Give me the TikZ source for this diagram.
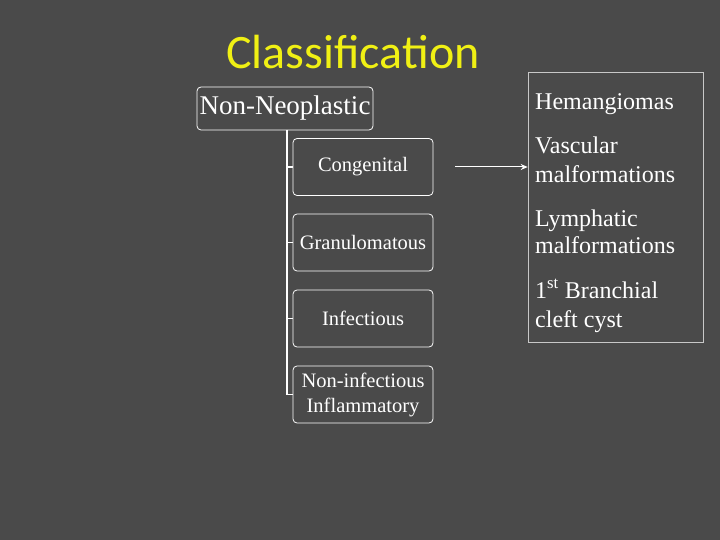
\documentclass[tikz,border=0pt]{standalone}
\usepackage{fontspec}
\usetikzlibrary{arrows.meta}
\setmainfont{Liberation Serif}
\newfontfamily\titlefont{Carlito}
\begin{document}
\begin{tikzpicture}[x=1pt,y=-1pt,
  box/.style={draw=white,rounded corners=4pt,text=white,align=center,inner sep=1pt,line width=0.8pt},
  child/.style={box,minimum width=140pt,minimum height=57pt,font=\fontsize{20.5}{25}\selectfont},
  rtxt/.style={anchor=base west,text=white,inner sep=0pt,font=\fontsize{24}{28}\selectfont},
  ln/.style={white,line width=1.2pt}]
\fill[fill={rgb,255:red,74;green,74;blue,74}] (0,0) rectangle (720,540);
\useasboundingbox (0,0) rectangle (720,540);
\node[text={rgb,255:red,240;green,240;blue,20},font=\titlefont\fontsize{48}{52}\selectfont] (title) at (353,52) {Classif{}ication};
\node[box,minimum width=176pt,minimum height=43pt,font=\fontsize{27}{30}\selectfont] (nn) at (285,108.5) {Non-Neoplastic};
\node[child] (c1) at (363,167) {Congenital};
\node[child] (c2) at (363,242.5) {Granulomatous};
\node[child] (c3) at (363,318.5) {Infectious};
\node[child] (c4) at (363,394.5) {Non-infectious\\Inflammatory};
\coordinate (t) at (287,130);
\coordinate (b) at (287,395);
\draw[ln] (t) -- (b);
\foreach \c in {c1,c2,c3,c4} \draw[ln] (\c.west -| t) -- (\c.west);
\node[draw={rgb,255:red,200;green,200;blue,200},line width=0.6pt,minimum width=175pt,minimum height=270pt] (r) at (615.5,207) {};
\node[rtxt] (r1) at (535,110) {Hemangiomas};
\node[rtxt] (r2) at (535,154) {Vascular};
\node[rtxt] (r3) at (535,183) {malformations};
\node[rtxt] (r4) at (535,226) {Lymphatic};
\node[rtxt] (r5) at (535,254) {malformations};
\node[rtxt] (r6) at (535,298) {1\textsuperscript{st} Branchial};
\node[rtxt] (r7) at (535,327) {cleft cyst};
\coordinate (a1) at (455,167);
\draw[ln,line width=1pt,-{Stealth[length=7pt,width=6pt]}] (a1) -- (a1 -| r.west);
\end{tikzpicture}
\end{document}
